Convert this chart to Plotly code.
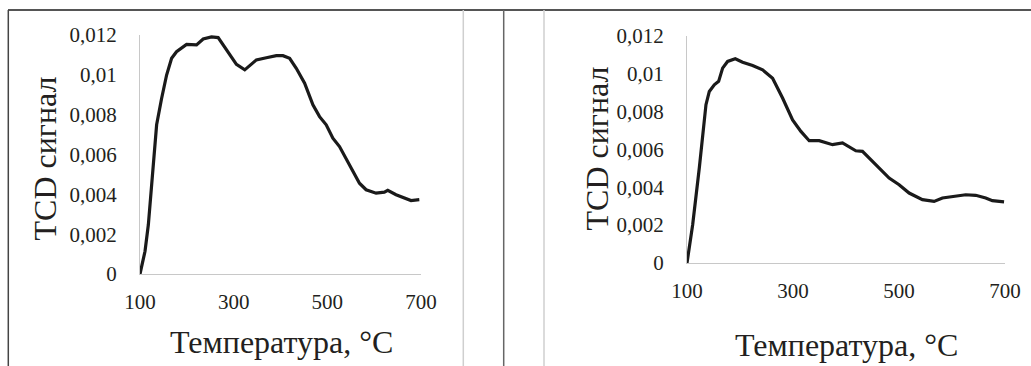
import plotly.graph_objects as go

# ---- data ----
temp_a = [100, 110.7, 117.8, 124.9, 135.5, 146, 156.8, 167.5, 178, 199.4, 220.7, 234.9, 252.7,
          266.9, 277.5, 291.7, 305.9, 323.7, 334.3, 348.5, 369.8, 391.1, 405.3, 419.5, 433.7,
          451.5, 469.2, 483.4, 497.6, 511.8, 526, 547.3, 568.6, 582.8, 604.1, 621.8, 629,
          646.7, 664.5, 678.7, 696.4]
tcd_a = [0, 0.00114, 0.00247, 0.00448, 0.00749, 0.0088, 0.00999, 0.01083, 0.01116, 0.01153,
         0.0115, 0.0118, 0.0119, 0.01187, 0.0115, 0.011, 0.01053, 0.01025, 0.01046, 0.01075,
         0.01086, 0.01096, 0.01096, 0.01083, 0.01033, 0.00958, 0.00849, 0.0079, 0.00749,
         0.00682, 0.0064, 0.00548, 0.00456, 0.00423, 0.00406, 0.00411, 0.0042, 0.00398,
         0.00384, 0.00369, 0.00373]

temp_b = [100, 110.7, 123.2, 135.8, 142.1, 151.5, 159.7, 167.2, 176.6, 191.1, 204.9, 223.8,
          242.6, 261.5, 280.3, 299.2, 314.9, 330.6, 349.4, 374.6, 393.4, 418.5, 431.1, 456.2,
          481.4, 500.2, 519.1, 544.2, 566.2, 581.9, 600.8, 625.9, 644.8, 663.6, 676.2, 698.2]
tcd_b = [0, 0.00202, 0.00501, 0.00835, 0.00905, 0.0094, 0.00958, 0.01028, 0.01063, 0.01077,
         0.01059, 0.01042, 0.01019, 0.00975, 0.0087, 0.00755, 0.00694, 0.00645, 0.00645,
         0.00624, 0.00633, 0.00592, 0.00589, 0.00518, 0.00448, 0.00413, 0.00369, 0.00334,
         0.00325, 0.00343, 0.00351, 0.0036, 0.00357, 0.00343, 0.00329, 0.00322]

x_ticks = [100, 300, 500, 700]
x_tick_labels = ["100", "300", "500", "700"]
y_ticks = [0, 0.002, 0.004, 0.006, 0.008, 0.01, 0.012]
y_tick_labels = ["0", "0,002", "0,004", "0,006", "0,008", "0,01", "0,012"]
x_title = "Температура, °C"
y_title = "TCD сигнал"

W, H = 1031, 366
FONT = "Liberation Serif"
TXT = "#231f20"

def px(x):
    return x / W

def py(y):
    return 1 - y / H

fig = go.Figure()
fig.add_trace(go.Scatter(x=temp_a, y=tcd_a, mode="lines", line=dict(color="#1a1a1a", width=3.2),
                         xaxis="x", yaxis="y", showlegend=False, hoverinfo="skip"))
fig.add_trace(go.Scatter(x=temp_b, y=tcd_b, mode="lines", line=dict(color="#1a1a1a", width=3.2),
                         xaxis="x2", yaxis="y2", showlegend=False, hoverinfo="skip"))

def xaxis(domain, anchor, tl):
    return dict(domain=domain, anchor=anchor, range=[100, 700], tickvals=x_ticks,
                ticktext=x_tick_labels, showgrid=False, zeroline=False, showline=True,
                linecolor="#c8c8c8", linewidth=1, ticks="outside", ticklen=tl,
                tickcolor="rgba(0,0,0,0)", automargin=False, fixedrange=True,
                tickfont=dict(family=FONT, size=21, color=TXT))

def yaxis(domain, anchor):
    return dict(domain=domain, anchor=anchor, range=[0, 0.012], tickvals=y_ticks,
                ticktext=y_tick_labels, showgrid=False, zeroline=False, showline=True,
                linecolor="#c8c8c8", linewidth=1, ticks="outside", ticklen=18,
                tickcolor="rgba(0,0,0,0)", automargin=False, fixedrange=True,
                tickfont=dict(family=FONT, size=21, color=TXT))

fig.update_layout(
    width=W, height=H, autosize=False,
    margin=dict(l=0, r=0, t=0, b=0, pad=0),
    paper_bgcolor="white", plot_bgcolor="white",
    xaxis=xaxis([px(140), px(421)], "y", 9),
    yaxis=yaxis([py(274), py(35)], "x"),
    xaxis2=xaxis([px(687), px(1005)], "y2", 9),
    yaxis2=yaxis([py(263), py(35.5)], "x2"),
)

ann = [
    dict(x=px(281.5), y=py(342), text=x_title, textangle=0),
    dict(x=px(846), y=py(345), text=x_title, textangle=0),
    dict(x=px(44), y=py(158.5), text=y_title, textangle=-90),
    dict(x=px(596), y=py(148.5), text=y_title, textangle=-90),
]
for a in ann:
    fig.add_annotation(xref="paper", yref="paper", showarrow=False, xanchor="center",
                       yanchor="middle", font=dict(family=FONT, size=32, color=TXT), **a)

shapes = [
    dict(x0=px(8), x1=1, y0=py(10), y1=py(10), line=dict(color="#555555", width=2)),
    dict(x0=px(8.3), x1=px(8.3), y0=py(10), y1=0, line=dict(color="#444444", width=1.5)),
    dict(x0=px(463.3), x1=px(463.3), y0=py(10), y1=0, line=dict(color="#cfcfcf", width=1.5)),
    dict(x0=px(503.7), x1=px(503.7), y0=py(10), y1=0, line=dict(color="#666666", width=1.5)),
    dict(x0=px(544), x1=px(544), y0=py(10), y1=0, line=dict(color="#cfcfcf", width=1.5)),
]
for s in shapes:
    fig.add_shape(type="line", xref="paper", yref="paper", **s)

fig.write_html("out.html", config={"displayModeBar": False},
               post_script="document.body.style.margin='0';document.body.style.overflow='hidden';")
